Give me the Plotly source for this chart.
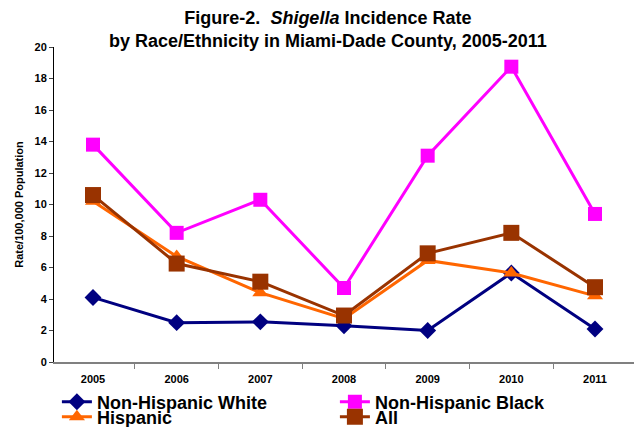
import plotly.graph_objects as go

years = ["2005", "2006", "2007", "2008", "2009", "2010", "2011"]
nh_white = [4.1, 2.5, 2.55, 2.3, 2.0, 5.65, 2.1]
nh_black = [13.8, 8.2, 10.3, 4.7, 13.1, 18.75, 9.4]
hispanic = [10.2, 6.7, 4.4, 2.75, 6.45, 5.65, 4.2]
all_races = [10.6, 6.25, 5.1, 2.95, 6.9, 8.2, 4.75]

# name, values, colour, marker, marker size, legend row
series = [
    ("Non-Hispanic White", nh_white, "#000080", "diamond", 13, "legend"),
    ("Non-Hispanic Black", nh_black, "#FF00FF", "square", 14, "legend"),
    ("Hispanic", hispanic, "#FF6600", "triangle-up", 14, "legend2"),
    ("All", all_races, "#993300", "square", 16, "legend2"),
]

fig = go.Figure()
for name, vals, color, sym, size, leg in series:
    fig.add_trace(go.Scatter(
        x=years, y=vals, name=name, mode="lines+markers",
        line=dict(color=color, width=3),
        marker=dict(symbol=sym, size=size, color=color),
        legend=leg,
    ))

font = "Liberation Sans, Arial, sans-serif"
legend_common = dict(
    orientation="h", x=0.005, xanchor="left", yref="container", yanchor="middle",
    entrywidth=233, font=dict(size=18, family=font, weight="bold"),
    itemwidth=30, bgcolor="rgba(0,0,0,0)",
)
fig.update_layout(
    width=634, height=427,
    margin=dict(l=54, r=0, t=47, b=65),
    paper_bgcolor="white", plot_bgcolor="white",
    font=dict(family=font, color="black"),
    xaxis=dict(
        type="category", showgrid=False, showline=True, linecolor="#808080", linewidth=2,
        ticks="outside", tickson="boundaries", ticklen=5, tickcolor="#808080",
        tickfont=dict(size=11, family=font, weight="bold"), ticklabelstandoff=6,
        automargin=False,
    ),
    yaxis=dict(
        range=[0, 20], dtick=2, showgrid=False, showline=True, linecolor="black", linewidth=1,
        ticks="outside", ticklen=4, zeroline=False, automargin=False,
        tickfont=dict(size=11, family=font, weight="bold"),
        title=dict(text="<b>Rate/100,000 Population</b>", font=dict(size=11, family=font), standoff=8),
    ),
    legend=dict(legend_common, y=1 - 402 / 427),
    legend2=dict(legend_common, y=1 - 417 / 427),
    showlegend=True,
    annotations=[dict(
        text="<b>Figure-2.  <i>Shigella</i> Incidence Rate<br>by Race/Ethnicity in Miami-Dade County, 2005-2011</b>",
        xref="paper", yref="paper", x=0.4716, y=1.057, xanchor="center", yanchor="middle",
        showarrow=False, font=dict(size=18, family=font),
    )],
)

fig.write_html("out.html")
